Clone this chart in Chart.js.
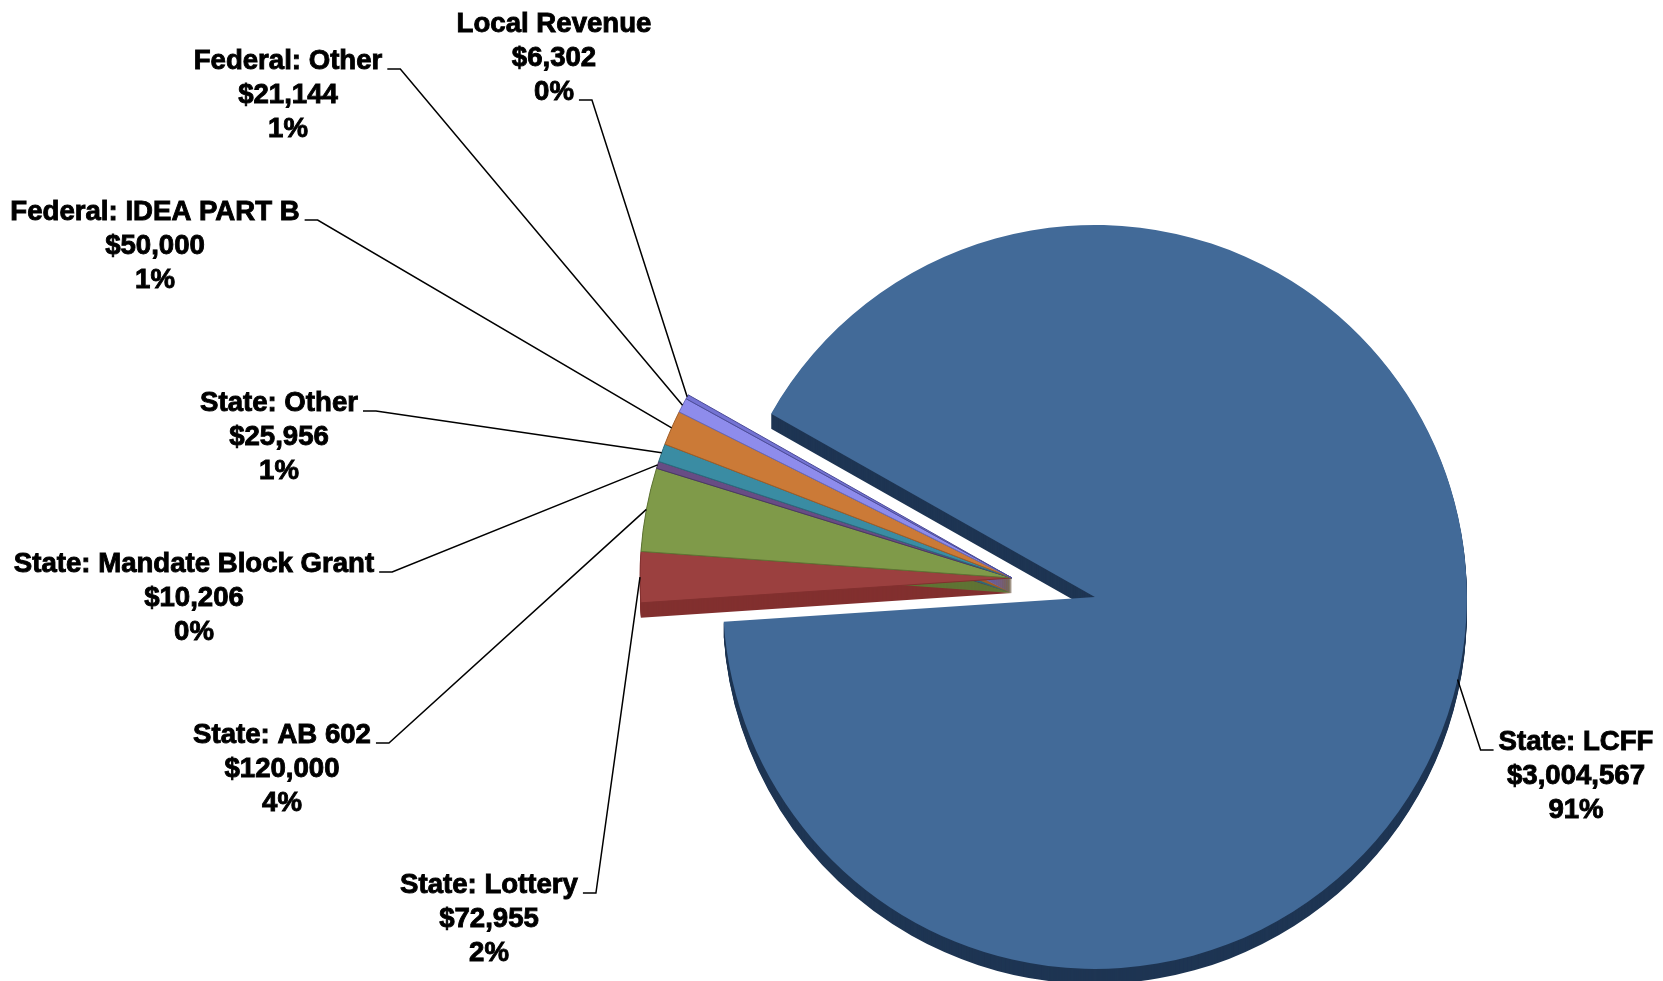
<!DOCTYPE html>
<html>
<head>
<meta charset="utf-8">
<title>Revenue</title>
<script src="https://cdn.jsdelivr.net/npm/chart.js@4"></script>
<style>
    html, body {
        margin: 0;
        padding: 0;
        background: #ffffff;
    }
    #box {
        width: 1663px;
        height: 981px;
        position: relative;
    }
</style>
</head>
<body>
<div id="box">
    <canvas id="grafico"></canvas>
</div>
<script>
// =======================
// DATA
// =======================

const categorias = [
    "State: LCFF",
    "State: Lottery",
    "State: AB 602",
    "State: Mandate Block Grant",
    "State: Other",
    "Federal: IDEA PART B",
    "Federal: Other",
    "Local Revenue"
];

const valores = [
    3004567, 72955, 120000, 10206, 25956, 50000, 21144, 6302
];

// percentages as printed on the labels
const percentuais = [
    "91%", "2%", "4%", "0%", "1%", "1%", "1%", "0%"
];

// =======================
// LOOK
// =======================

const cores = [
    "#426a98", "#9b403f", "#7f9a49", "#684c84",
    "#3a8ca3", "#cb7a37", "#8e8cec", "#7473d3"
];

const coresLado = [
    "#1e3553", "#82302f", "#5f7434", "#4b3866",
    "#2a6b7d", "#a05d27", "#6a69b5", "#4d4d99"
];

// label block: x centre, y of first line, which line gets the leader, side
const rotulos = [
    { x: 1576, y: 742, linha: 0, lado: "right" },
    { x: 489,  y: 885, linha: 0, lado: "left" },
    { x: 282,  y: 735, linha: 0, lado: "left" },
    { x: 194,  y: 564, linha: 0, lado: "left" },
    { x: 279,  y: 403, linha: 0, lado: "left" },
    { x: 155,  y: 212, linha: 0, lado: "left" },
    { x: 288,  y: 61,  linha: 0, lado: "left" },
    { x: 554,  y: 24,  linha: 2, lado: "left" }
];

const EXPLODIR = 0;       // slice pulled out
const DIST_EXPLODIR = 85;
const PROFUNDIDADE = 15;  // 3d depth
const FONTE = "bold 27.6px 'Liberation Sans', Arial, sans-serif";
const ALTURA_LINHA = 34;

// =======================
// PLUGINS
// =======================

// pulls the big slice away from the centre
const explode = {
    id: "explode",
    afterDatasetsUpdate(chart) {
        const arc = chart.getDatasetMeta(0).data[EXPLODIR];
        if (!arc) return;
        const meio = (arc.startAngle + arc.endAngle) / 2;
        arc.x += Math.cos(meio) * DIST_EXPLODIR;
        arc.y += Math.sin(meio) * DIST_EXPLODIR;
    }
};

// dark side walls under each slice
const profundidade = {
    id: "profundidade",
    beforeDatasetsDraw(chart) {
        const ctx = chart.ctx;
        const arcs = chart.getDatasetMeta(0).data;
        ctx.save();
        arcs.forEach((arc, i) => {
            ctx.fillStyle = coresLado[i];
            for (let k = PROFUNDIDADE; k >= 1; k--) {
                ctx.beginPath();
                ctx.moveTo(arc.x, arc.y + k);
                ctx.arc(arc.x, arc.y + k, arc.outerRadius,
                    arc.startAngle, arc.endAngle);
                ctx.closePath();
                ctx.fill();
            }
        });
        ctx.restore();
    }
};

// text labels with leader lines
const rotulosPlugin = {
    id: "rotulos",
    afterDatasetsDraw(chart) {
        const ctx = chart.ctx;
        const arcs = chart.getDatasetMeta(0).data;
        ctx.save();
        ctx.font = FONTE;
        ctx.fillStyle = "#000000";
        ctx.strokeStyle = "#000000";
        ctx.textAlign = "center";
        ctx.textBaseline = "middle";

        arcs.forEach((arc, i) => {
            const r = rotulos[i];
            const linhas = [
                categorias[i],
                "$" + valores[i].toLocaleString("en-US"),
                percentuais[i]
            ];

            // heavier text like the original
            ctx.lineWidth = 0.9;
            linhas.forEach((t, j) => {
                ctx.fillText(t, r.x, r.y + j * ALTURA_LINHA);
                ctx.strokeText(t, r.x, r.y + j * ALTURA_LINHA);
            });

            // leader line
            const w = ctx.measureText(linhas[r.linha]).width;
            const ly = r.y + r.linha * ALTURA_LINHA + 8;
            let x0, x1;
            if (r.lado === "left") {
                x0 = r.x + w / 2 + 5;
                x1 = x0 + 13;
            } else {
                x0 = r.x - w / 2 - 5;
                x1 = x0 - 13;
            }
            const meio = (arc.startAngle + arc.endAngle) / 2;
            const ax = arc.x + Math.cos(meio) * arc.outerRadius;
            const ay = arc.y + Math.sin(meio) * arc.outerRadius;

            ctx.beginPath();
            ctx.moveTo(x0, ly);
            ctx.lineTo(x1, ly);
            ctx.lineTo(ax, ay);
            ctx.lineWidth = 1.5;
            ctx.stroke();
        });
        ctx.restore();
    }
};

// =======================
// CHART
// =======================

const ctx =
    document.getElementById("grafico");

const grafico = new Chart(ctx, {
    type: "pie",

    data: {
        labels: categorias,
        datasets: [{
            data: valores,
            backgroundColor: cores,
            borderColor: coresLado,
            borderWidth: [0, 1, 1, 1, 1, 1, 1, 1]
        }]
    },

    options: {
        responsive: true,
        maintainAspectRatio: false,
        animation: false,
        rotation: 299.5,
        radius: 372,
        layout: {
            padding: { left: 381, right: 20, top: 185, bottom: 10 }
        },
        plugins: {
            legend: { display: false },
            tooltip: { enabled: false }
        }
    },

    plugins: [explode, profundidade, rotulosPlugin]
});
</script>
</body>
</html>
